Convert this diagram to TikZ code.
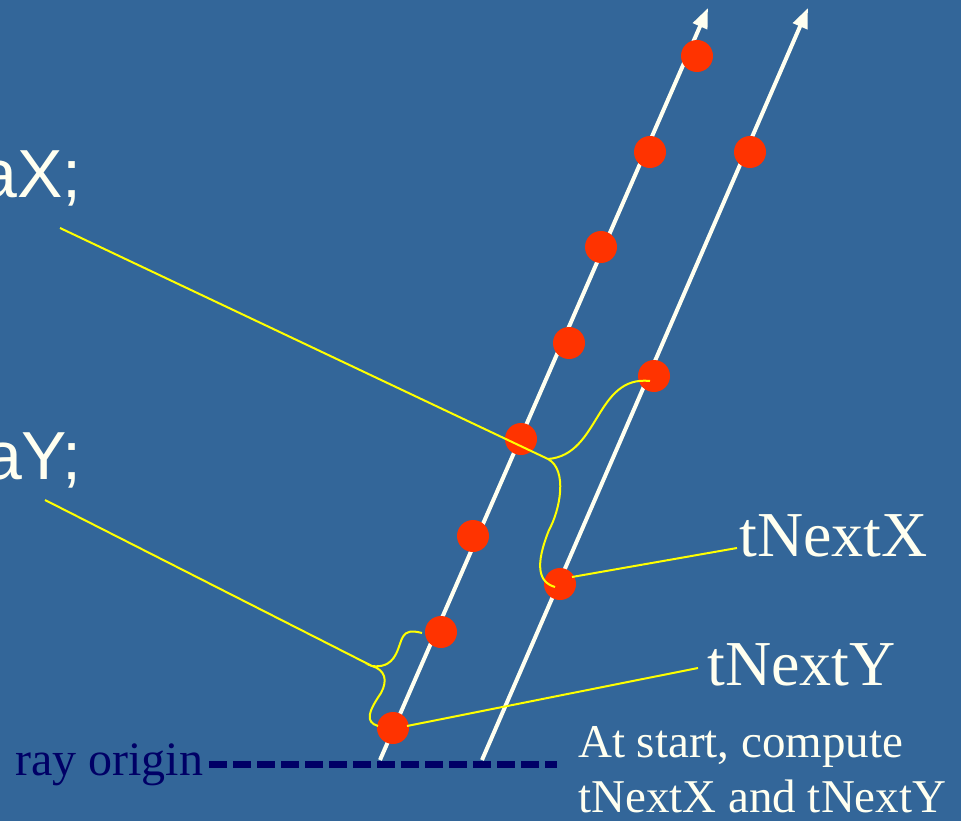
\documentclass[tikz,border=0pt]{standalone}
\usepackage{fontspec}
\setmainfont{Liberation Serif}
\newfontfamily\arialf{Liberation Sans}
\usetikzlibrary{arrows.meta}
\definecolor{bgblue}{HTML}{336699}
\definecolor{dotred}{HTML}{FF3300}
\definecolor{cream}{HTML}{FFFFF0}
\definecolor{ynav}{HTML}{FFFF00}
\definecolor{navy}{HTML}{000066}
\tikzset{
  dot/.style={circle,fill=dotred,minimum size=32pt,inner sep=0pt},
  ray/.style={draw=cream,line width=4pt,-{Triangle[length=20pt,width=15pt]}},
  yel/.style={draw=ynav,line width=2pt},
  lbl/.style={text=cream,inner sep=0pt,font=\fontsize{64}{64}\selectfont},
  code/.style={text=cream,inner sep=0pt,font=\arialf\fontsize{68}{68}\selectfont},
}
\begin{document}
\begin{tikzpicture}[x=1pt,y=-1pt]
\fill[bgblue] (0,0) rectangle (961,821);
\useasboundingbox (0,0) rectangle (961,821);
\clip (0,0) rectangle (961,821);
% rays
\coordinate (r1s) at (380,760);
\coordinate (r1e) at (708,8);
\coordinate (r2s) at (482,760);
\coordinate (r2e) at (808,8);
\draw[ray] (r1s) -- (r1e);
\draw[ray] (r2s) -- (r2e);
% ray origin dashed line
\node[text=navy,inner sep=0pt,anchor=base west,font=\fontsize{48}{48}\selectfont] (ro) at (15,775) {ray origin};
\coordinate (ds) at (209,764);
\coordinate (de) at (557,764);
\draw[navy,line width=7pt,dash pattern=on 18.3pt off 5.7pt] (ds) -- (de);
% dots on ray 1
\node[dot] (a1) at (697,56) {};
\node[dot] (a2) at (650,152) {};
\node[dot] (a3) at (601,247) {};
\node[dot] (a4) at (569,343) {};
\node[dot] (a5) at (521,439) {};
\node[dot] (a6) at (473,536) {};
\node[dot] (a7) at (441,632) {};
\node[dot] (a8) at (393,728) {};
% dots on ray 2
\node[dot] (b1) at (750,152) {};
\node[dot] (b2) at (654,376) {};
\node[dot] (b3) at (560,584) {};
% texts
\node[code,anchor=base east] (ax) at (82,198) {aX;};
\node[code,anchor=base east] (ay) at (82,479) {aY;};
\node[lbl,anchor=base west] (tnx) at (739,556) {tNextX};
\node[lbl,anchor=base west] (tny) at (707,685) {tNextY};
\node[text=cream,inner sep=0pt,anchor=base west,align=left,font=\fontsize{47}{55}\selectfont] (st) at (578,812) {At start, compute\\tNextX and tNextY};
% yellow connectors
\coordinate (tipA) at (548,459);
\coordinate (axs) at (60,228);
\coordinate (ays) at (45,500);
\coordinate (tipB) at (372,666);
\coordinate (txe) at (737,548);
\coordinate (tye) at (698,668);
\coordinate (tx0) at (572,577);
\coordinate (ty0) at (407,726);
\draw[yel] (axs) -- (tipA);
\draw[yel] (tipA) .. controls (600,455) and (595,375) .. (650,381);
\draw[yel] (tipA) .. controls (568,470) and (560,510) .. (549,530) .. controls (535,565) and (538,582) .. (555,587);
\draw[yel] (ays) -- (tipB);
\draw[yel] (422,633) .. controls (400,627) and (403,640) .. (396,654) .. controls (390,666) and (380,667) .. (tipB)
  .. controls (385,670) and (388,680) .. (381,693) .. controls (368,712) and (365,722) .. (378,726);
\draw[yel] (tx0) -- (txe);
\draw[yel] (ty0) -- (tye);
\end{tikzpicture}
\end{document}
